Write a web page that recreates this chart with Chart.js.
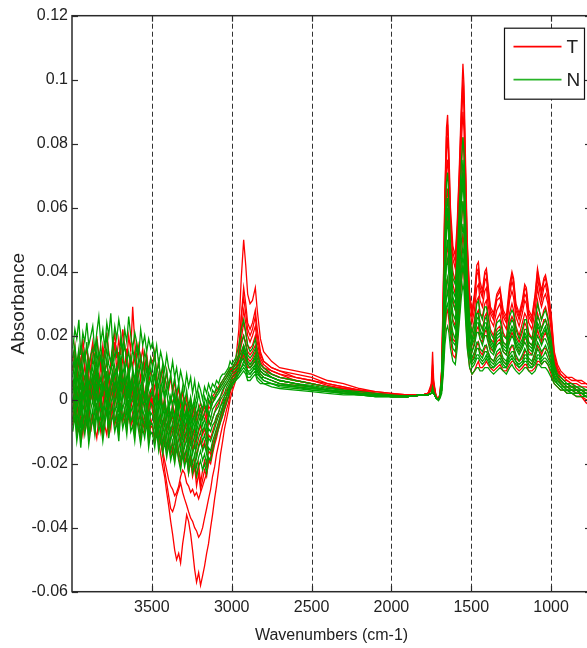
<!DOCTYPE html>
<html>
<head>
<meta charset="utf-8">
<script src="https://cdn.jsdelivr.net/npm/chart.js@4.4.1/dist/chart.umd.min.js"></script>
<style>
html,body{margin:0;padding:0;background:#fff;overflow:hidden;}
#wrap{width:600px;height:648px;position:relative;}
</style>
</head>
<body>
<div id="wrap"><canvas id="c" width="600" height="648"></canvas></div>
<script>
// Wavenumber grids (cm-1), three segments
const gridA = [3995,3982,3970,3957,3945,3932,3920,3907,3895,3882,3870,3857,3845,3832,3820,3807,3795,3782,3770,3757,3745,3732,3720,3707,3695,3682,3670,3657,3645,3632,3620,3607,3595,3582,3570,3557,3545,3532,3520,3507,3495,3482,3470,3457,3445,3432,3420,3407,3395,3382,3370,3357,3345,3332,3320,3307,3295,3282,3270,3257,3245,3232,3220,3207,3195,3182,3170,3157,3145,3132,3120,3107,3095,3082,3070,3057,3045,3032,3020,3010];
const gridB = [3000,2975,2955,2940,2925,2912,2900,2885,2870,2852,2840,2820,2800,2750,2700,2600,2500,2400,2300,2200,2100,2000,1900];
const gridC = [1800,1770,1750,1742,1735,1720,1705,1695,1685,1675,1665,1655,1648,1640,1630,1615,1600,1588,1575,1562,1552,1545,1538,1525,1510,1495,1480,1465,1455,1445,1430,1415,1405,1395,1380,1360,1340,1320,1300,1280,1260,1245,1235,1220,1200,1180,1165,1155,1140,1120,1100,1085,1075,1060,1045,1035,1020,1000,980,960,940,920,900,870,840,810,780,750];

const xTickValues = [3500,3000,2500,2000,1500,1000];
const yTickValues = [-0.06,-0.04,-0.02,0,0.02,0.04,0.06,0.08,0.1,0.12];
const groupNames = ['T','N'];

// Absorbance values in units of 0.001 (milli-absorbance), segments A / B / C
const T1 = [
 [12,17,9,15,11,19,13,16,8,14,18,12,20,14,10,17,13,21,15,11,16,21,13,19,14,22,17,12,20,15,29,18,13,17,12,16,10,14,9,13,11,15,8,12,6,10,4,9,3,7,2,6,0,4,-2,3,-3,1,-4,0,-5,-2,-6,-3,-1,-4,-2,-5,0,-1,1,2,3,4,5,6,7,8,9,10],
 [9,12,22,38,50,42,33,30,31,35,28,19,15,12,10,9,8,6,5,3.5,2.5,2,1.5],
 [1.5,2,5,15,6,1,0,2,10,35,65,85,89,78,60,48,45,55,72,92,105,98,80,50,33,28,33,42,43,37,34,40,41,36,29,27,33,35,28,26,36,40,38,30,27,31,36,35,28,26,33,41,38,34,38,39,35,27,15,11,9,8,7,7,6,6,5,5]];
const T2 = [
 [3,8,0,5,-2,6,2,7,-1,4,7,1,9,3,-1,5,2,8,0,4,8,2,6,-1,9,3,5,0,7,2,4,-1,6,1,-3,3,0,5,-2,1,-4,-7,-10,-13,-17,-21,-24,-29,-33,-38,-42,-47,-50,-48,-51,-45,-41,-36,-38,-42,-47,-53,-57,-54,-58,-55,-52,-48,-45,-40,-36,-31,-27,-22,-17,-13,-9,-6,-3,0],
 [2,6,14,26,35,30,24,22,24,28,22,15,12,10,9,7,6,5,4,3,2.5,2,1.5],
 [1.5,2,4,9,5,1,0,2,9,31,60,78,82,72,55,44,41,51,67,86,97,91,74,46,31,26,31,39,40,34,32,37,38,33,27,25,31,32,26,24,33,37,35,28,25,29,33,32,26,24,31,38,35,31,35,36,32,24,13,9,8,7,6,5,3,1,-1,-2]];
const T3 = [
 [6,1,9,4,-1,7,11,3,8,0,5,10,2,7,-1,6,9,3,8,1,4,9,1,6,11,3,7,0,5,2,6,1,7,2,-2,4,0,3,-1,2,0,-3,-6,-9,-13,-17,-22,-26,-30,-34,-35,-33,-30,-28,-26,-29,-31,-33,-35,-37,-38,-40,-41,-43,-42,-40,-37,-34,-31,-28,-24,-21,-17,-14,-11,-8,-6,-3,-1,2],
 [4,8,14,22,28,24,20,18,20,23,18,13,11,9,8,7,6,4.5,3.5,3,2,1.5,1.5],
 [1.5,2,4,8,4,1,0,2,8,28,55,72,75,66,51,40,37,47,62,80,90,84,68,42,28,24,28,35,36,31,29,34,35,30,25,23,28,30,24,22,31,34,32,26,23,27,31,30,24,22,28,35,32,29,32,33,30,22,12,9,7,6,6,5,5,4,4,3]];
const T4 = [
 [-1,4,-4,2,-6,3,-2,5,-3,1,4,-2,6,0,-4,3,-1,7,-3,2,5,0,3,-3,6,1,4,-2,7,0,3,-2,5,0,-4,2,-1,4,-3,1,-1,-4,-7,-10,-13,-16,-19,-22,-25,-27,-28,-30,-29,-27,-24,-22,-23,-26,-27,-29,-28,-30,-29,-31,-29,-27,-25,-23,-20,-18,-15,-13,-10,-8,-6,-4,-2,0,1,3],
 [6,9,13,19,24,21,17,16,17,20,16,12,10,9,8,6,5,4,3.5,2.5,2,1.5,1],
 [1.5,2,3,6,3,1,0,1.5,7,24,48,63,66,58,45,36,33,42,56,72,82,76,61,38,25,21,25,31,32,27,26,30,31,27,22,20,25,27,21,19,27,30,28,23,20,24,27,26,21,19,25,31,28,25,28,29,26,19,11,8,6,5,5,4,4,3,3,2]];
const T5 = [
 [6,2,10,4,-1,8,3,11,1,7,-1,6,9,3,12,5,0,8,2,6,9,3,7,12,4,8,1,6,10,3,7,2,9,4,0,6,1,5,-1,3,4,0,3,-2,1,-4,-1,-6,-3,-7,-5,-9,-4,-8,-11,-6,-10,-7,-12,-8,-12,-9,-13,-10,-8,-11,-9,-12,-7,-8,-6,-4,-2,-1,1,2,4,5,6,7],
 [8,10,13,17,20,18,15,14,15,17,14,11,10,8,7,6,5,4,3,2.5,2,1.5,1],
 [1.5,2,3,7,3,1,0,1.5,6,21,42,55,58,51,39,31,28,36,49,63,72,67,54,33,22,18,22,27,28,24,22,26,27,23,19,18,22,23,18,17,24,26,25,20,18,21,24,23,18,17,22,27,25,22,25,25,23,17,10,7,6,5,4,4,3,3,2,2]];
const T6 = [
 [-3,2,-5,1,-2,4,-4,0,-6,2,5,-1,3,-4,1,-3,6,-2,2,-5,3,-2,5,0,-4,2,7,-1,4,-3,1,-4,2,-2,-6,0,-3,3,-5,-1,-3,-7,-2,-8,-4,-9,-5,-10,-6,-11,-8,-12,-7,-11,-14,-9,-13,-10,-15,-11,-16,-13,-18,-14,-12,-15,-13,-16,-11,-12,-10,-8,-6,-4,-2,0,1,3,4,5],
 [7,9,11,14,17,15,13,12,13,15,12,10,9,8,7,6,5,4,3,2.5,2,1.5,1],
 [1.5,2,3,5,3,1,0,1,5,17,35,46,48,42,32,25,23,30,41,54,62,57,46,28,18,15,18,22,23,19,18,21,22,19,16,15,18,19,15,14,19,21,20,17,15,17,19,19,15,14,18,22,20,18,20,21,19,14,9,7,5,4,4,3,3,2,2,1]];
const T7 = [
 [-6,-1,-9,-3,-7,-11,-4,-8,-2,-10,-5,-9,-12,-6,-10,-3,-8,-11,-5,-9,-2,-7,-4,-10,-1,-6,-3,-9,-5,-8,-4,-9,-2,-7,-11,-5,-8,-3,-10,-6,-8,-12,-7,-13,-9,-14,-10,-15,-11,-16,-13,-17,-12,-16,-19,-14,-18,-15,-21,-17,-22,-19,-24,-20,-26,-22,-19,-21,-16,-17,-14,-12,-10,-7,-5,-3,-1,1,3,4],
 [5,7,9,12,14,12,10,10,11,13,11,9,8,7,6,5,4,3,2.5,2,1.5,1,1],
 [1.5,2,3,6,3,1,0,1,4,14,28,37,38,33,25,19,18,24,34,45,52,48,38,23,15,12,14,17,18,15,14,16,17,15,13,12,14,15,12,11,15,17,16,13,12,13,15,15,12,11,14,17,16,14,16,16,15,11,7,6,5,4,3,3,2,2,1,1]];
const T8 = [
 [9,14,6,12,8,15,10,5,13,9,17,11,7,14,10,16,8,12,6,11,12,18,9,15,7,13,10,16,8,14,10,15,7,12,6,11,8,13,5,9,7,3,8,0,4,-3,1,-5,-2,-6,-1,-5,0,-4,-7,-2,-6,-3,-8,-4,-7,-4,-8,-5,-3,-6,-4,-7,-2,-3,-1,1,2,3,4,5,6,7,8,9],
 [10,11,12,13,15,13,11,10,11,12,10,8,7,6,5,4.5,4,3,2.5,2,1.5,1,1],
 [1.5,2,3,5,3,1,0,1,3,10,21,27,28,25,19,14,13,18,26,36,42,39,30,17,10,8,9,11,12,10,10,11,12,11,10,9,10,11,9,9,11,12,12,10,9,10,11,11,9,9,10,12,12,11,12,12,11,8,5,4,3,3,2,2,1,1,0,0]];
const T9 = [
 [-8,-3,-11,-6,-13,-5,-9,-4,-12,-7,-4,-9,-2,-8,-5,-11,-6,-1,-10,-5,-3,-8,-5,-11,-2,-7,-4,-9,-1,-8,-6,-11,-4,-8,-12,-7,-10,-5,-13,-8,-9,-13,-8,-14,-10,-15,-11,-16,-12,-17,-15,-19,-14,-18,-21,-16,-20,-17,-23,-19,-24,-21,-27,-23,-28,-25,-22,-24,-19,-20,-17,-14,-12,-9,-7,-5,-3,-1,1,3],
 [4,8,16,26,32,27,22,20,22,26,20,14,12,10,9,8,7,5,4,3,2,1.5,1.5],
 [1.5,2,4,11,5,1,0,2,9,33,63,82,86,75,57,46,43,53,70,89,100,93,76,48,32,27,32,40,41,35,33,39,40,35,28,26,32,34,27,25,34,39,37,29,26,30,35,34,27,25,32,40,37,33,37,38,34,26,14,10,8,7,7,6,6,5,5,4]];

const N1 = [
 [16,22,19,25,14,21,18,24,17,20,23,15,21,26,18,22,16,24,20,27,17,23,19,25,21,15,22,18,26,20,16,21,18,14,22,17,20,15,19,16,18,13,17,11,15,12,9,14,10,8,12,7,10,5,9,6,3,8,4,7,2,6,1,5,3,0,4,2,5,3,5,4,6,5,7,8,8,9,10,12],
 [11,13,17,22,25,21,17,15,16,19,15,11,10,8,7,6,5,4,3,2.5,2,1.5,1],
 [1.5,1.5,2,4,2.5,0.5,0,1.5,7,26,52,68,71,62,48,38,36,44,60,74,82,77,62,38,25,21,24,30,31,27,25,29,29,26,21,19,24,25,20,19,26,28,27,22,19,22,25,25,20,19,24,30,28,25,27,28,25,19,11,8,7,6,5,5,4,4,3,3]];
const N2 = [
 [13,17,11,16,9,15,12,18,10,14,16,12,19,13,17,11,15,20,14,12,18,13,16,11,19,14,17,12,15,10,16,12,17,11,14,9,15,12,8,13,10,14,8,12,7,11,5,9,4,8,3,7,2,5,0,4,-1,3,-2,1,-3,1,-2,2,-1,-3,1,-1,2,0,3,2,4,3,5,6,7,8,9,10],
 [10,12,14,18,20,17,14,13,14,16,13,10,9,7,6,5,4.5,3.5,3,2,1.5,1,1],
 [1.5,1.5,2,3,2,0.5,0,1,6,23,46,60,63,55,43,34,32,40,54,67,75,70,56,34,23,19,22,27,27,24,22,25,26,23,19,17,21,22,18,17,23,25,24,19,17,19,22,22,18,17,21,26,25,22,24,25,22,17,10,7,6,5,5,4,4,3,3,2]];
const N3 = [
 [10,14,8,13,6,11,15,9,12,7,13,9,15,10,14,8,12,16,11,9,14,10,8,13,11,16,9,12,7,13,10,6,12,8,11,5,9,13,7,10,6,10,4,8,3,7,1,5,2,-1,3,-1,2,-3,1,-4,0,-2,-5,-1,-4,-1,-5,-2,-6,-3,-1,-4,0,-2,1,0,2,3,4,5,6,7,8,9],
 [9,11,13,15,17,15,12,11,12,14,11,9,8,7,6,5,4,3,2.5,2,1.5,1,1],
 [1.5,1.5,2,3,2,0.5,0,1,5,20,41,53,56,49,38,30,28,36,49,61,68,63,50,31,21,17,19,24,24,21,19,22,23,20,17,15,19,20,16,15,20,22,21,17,15,17,20,19,16,15,19,23,22,19,21,22,19,15,9,7,6,5,4,4,3,3,2,2]];
const N4 = [
 [7,12,5,9,3,10,6,11,4,8,10,6,12,7,3,11,8,13,6,9,12,7,10,5,13,8,11,6,9,4,9,5,11,7,3,8,6,10,4,7,3,8,2,5,-1,4,0,3,-3,1,-2,2,-4,0,-5,-1,-6,-2,-7,-3,-7,-4,-8,-5,-3,-6,-4,-2,-5,-3,-1,0,1,2,3,4,5,6,7,8],
 [9,10,11,13,15,13,11,10,11,12,10,8,7,6,5,4.5,4,3,2.5,2,1.5,1,1],
 [1.5,1.5,2,3,2,0.5,0,1,5,18,36,47,50,44,34,27,25,32,44,55,62,58,46,28,19,15,17,21,21,19,17,20,20,18,15,14,17,18,15,14,18,20,19,16,14,16,18,17,14,14,17,20,19,17,19,19,17,13,8,6,5,4,4,3,3,2,2,1]];
const N5 = [
 [4,9,2,7,0,6,3,8,1,5,8,3,10,4,7,1,9,5,2,6,9,4,7,2,10,5,8,3,6,1,6,2,8,4,0,5,-1,7,3,1,4,-1,3,-2,2,-3,0,-4,-1,-5,-2,-6,-1,-5,-8,-3,-7,-4,-9,-5,-9,-6,-10,-7,-5,-8,-6,-9,-4,-6,-3,-2,-1,0,1,3,4,5,6,7],
 [8,9,10,12,13,11,9,9,10,11,9,7,7,6,5,4,3.5,3,2,2,1.5,1,1],
 [1.5,1.5,2,2.5,2,0.5,0,1,4,16,32,42,44,39,30,24,22,28,39,49,55,51,41,25,17,13,15,18,18,16,15,17,17,15,13,12,15,16,13,12,16,17,17,14,12,14,16,15,13,12,15,18,17,15,16,17,15,12,7,6,5,4,3,3,3,2,2,1]];
const N6 = [
 [2,7,-1,4,-3,5,0,6,-2,3,6,1,8,2,-1,5,3,9,0,4,7,2,5,-1,8,3,6,1,9,2,4,-1,6,2,-2,3,0,5,-1,2,2,-3,1,-4,0,-5,-2,-6,-3,-7,-4,-8,-3,-7,-10,-5,-9,-6,-11,-7,-11,-8,-12,-9,-7,-10,-8,-11,-6,-8,-6,-4,-3,-2,0,1,2,4,5,6],
 [7,8,9,10,11,10,8,8,9,10,8,7,6,5,4.5,4,3,2.5,2,1.5,1.5,1,1],
 [1.5,1.5,2,2.5,2,0.5,0,1,4,14,28,36,38,34,26,21,19,25,34,43,48,45,36,22,15,12,13,16,16,14,13,15,15,14,12,11,13,14,12,11,14,15,15,12,11,12,14,14,12,11,13,16,15,13,14,15,13,11,7,5,4,4,3,3,2,2,1,1]];
const N7 = [
 [-1,4,-3,1,-5,2,-2,3,-4,0,3,-2,5,-1,2,-4,0,6,-3,1,4,-1,2,-4,5,0,3,-2,6,-1,1,-4,3,-1,-5,0,-3,2,-6,-1,-2,-6,-1,-7,-3,-8,-4,-9,-5,-10,-7,-11,-6,-10,-13,-8,-12,-9,-14,-10,-14,-11,-15,-12,-10,-13,-11,-14,-9,-10,-8,-7,-5,-4,-2,-1,1,2,4,5],
 [6,7,8,9,10,9,7,7,8,9,7,6,5,5,4,3.5,3,2.5,2,1.5,1,1,1],
 [1.5,1.5,2,2,2,0.5,0,1,3,11,22,29,30,27,21,16,15,20,29,37,42,39,31,19,13,10,11,13,13,12,11,12,13,12,10,10,11,12,10,10,12,13,12,11,10,11,12,12,10,10,11,13,13,11,12,12,11,9,6,5,4,3,3,2,2,2,1,1]];
const N8 = [
 [-4,1,-7,-2,-9,-1,-5,0,-8,-3,0,-5,2,-4,-1,-7,-2,3,-6,-1,1,-4,-1,-7,2,-3,0,-5,3,-4,-2,-7,0,-4,-8,-3,-6,-1,-9,-4,-5,-9,-4,-10,-6,-11,-7,-12,-8,-13,-10,-14,-9,-13,-16,-11,-15,-12,-17,-13,-17,-14,-18,-15,-13,-16,-14,-17,-12,-13,-11,-9,-7,-5,-4,-2,0,1,3,4],
 [5,6,7,8,9,8,6,6,7,8,6,5,5,4,3.5,3,2.5,2,1.5,1.5,1,1,1],
 [1.5,1.5,2,2,2,0.5,-0.3,0.5,2,8,17,22,23,21,16,12,11,16,24,32,36,34,27,16,10,8,9,10,10,9,9,10,10,10,9,8,9,10,9,8,10,11,10,9,8,9,10,10,9,8,9,11,11,10,10,10,9,7,5,4,3,3,2,2,1,1,1,0]];
const N9 = [
 [-7,-2,-10,-5,-12,-4,-8,-3,-11,-6,-3,-8,-1,-7,-4,-10,-5,0,-9,-4,-2,-7,-4,-10,-1,-6,-3,-8,0,-7,-5,-10,-3,-7,-11,-6,-9,-4,-12,-7,-8,-12,-7,-13,-9,-14,-10,-15,-11,-16,-13,-17,-12,-16,-19,-14,-18,-15,-20,-16,-20,-17,-21,-18,-16,-19,-17,-20,-15,-16,-13,-11,-9,-7,-5,-3,-1,1,2,4],
 [5,7,10,13,16,14,12,11,12,13,11,9,8,7,6,5,4,3,2.5,2,1.5,1,1],
 [1.5,1.5,2,3,2,0.5,0,1,6,21,43,57,60,52,40,32,30,38,51,64,71,66,53,32,22,18,20,25,26,22,20,24,24,21,18,16,20,21,17,16,21,23,22,18,16,18,21,20,17,16,20,24,23,20,22,23,20,16,9,7,6,5,5,4,3,3,2,2]];
const N10 = [
 [-10,-5,-13,-8,-15,-7,-11,-6,-14,-9,-6,-11,-4,-10,-7,-13,-8,-3,-12,-7,-5,-10,-7,-13,-4,-9,-6,-11,-3,-10,-8,-13,-6,-10,-14,-9,-12,-7,-15,-10,-11,-15,-10,-16,-12,-17,-13,-18,-14,-19,-16,-20,-15,-19,-22,-17,-21,-18,-23,-19,-23,-20,-24,-21,-19,-22,-20,-23,-18,-19,-16,-13,-11,-9,-7,-5,-3,-1,1,3],
 [4,6,8,10,12,11,9,8,9,11,9,7,6,5,4.5,4,3.5,3,2,1.5,1,1,1],
 [1.5,1.5,2,2,2,0.5,0,1,3,12,25,32,34,30,23,18,17,22,31,40,45,42,33,20,14,11,12,14,14,13,12,13,14,13,11,10,12,13,11,10,13,14,13,12,10,11,13,13,11,10,12,14,14,12,13,13,12,10,6,5,4,3,3,2,2,2,1,1]];

const tSeries = [T1,T2,T3,T4,T5,T6,T7,T8,T9];
const nSeries = [N1,N2,N3,N4,N5,N6,N7,N8,N9,N10];

const RED = 'rgb(255,0,0)';
const GREEN = 'rgb(0,160,0)';
const FONT = "'Liberation Sans', Arial, sans-serif";
const INK = '#222';

function toPoints(series){
  const grids = [gridA, gridB, gridC];
  const pts = [];
  series.forEach((vals, i) => {
    const g = grids[i];
    const n = Math.min(vals.length, g.length);
    for (let k = 0; k < n; k++) pts.push({x: g[k], y: vals[k] / 1000});
  });
  return pts;
}

const datasets = [];
nSeries.forEach(s => datasets.push({label: groupNames[1], data: toPoints(s), borderColor: GREEN, borderWidth: 1.3, pointRadius: 0, fill: false}));
tSeries.forEach(s => datasets.push({label: groupNames[0], data: toPoints(s), borderColor: RED, borderWidth: 1.3, pointRadius: 0, fill: false}));

const framePlugin = {
  id: 'frame',
  beforeDatasetsDraw(chart){
    const {ctx, chartArea: a, scales: {x}} = chart;
    ctx.save();
    ctx.strokeStyle = '#333';
    ctx.lineWidth = 1;
    ctx.setLineDash([5,3]);
    xTickValues.forEach(v => {
      const px = Math.round(x.getPixelForValue(v)) + 0.5;
      ctx.beginPath(); ctx.moveTo(px, a.top); ctx.lineTo(px, a.bottom); ctx.stroke();
    });
    ctx.restore();
  },
  afterDatasetsDraw(chart){
    const {ctx, chartArea: a, scales: {x, y}} = chart;
    ctx.save();
    ctx.strokeStyle = '#2a2a2a';
    ctx.lineWidth = 1.5;
    ctx.setLineDash([]);
    ctx.strokeRect(a.left, a.top, a.right - a.left, a.bottom - a.top);
    const tl = 6;
    ctx.lineWidth = 1.2;
    xTickValues.forEach(v => {
      const px = Math.round(x.getPixelForValue(v)) + 0.5;
      ctx.beginPath(); ctx.moveTo(px, a.bottom); ctx.lineTo(px, a.bottom - tl); ctx.stroke();
      ctx.beginPath(); ctx.moveTo(px, a.top); ctx.lineTo(px, a.top + tl); ctx.stroke();
    });
    yTickValues.forEach(v => {
      const py = Math.round(y.getPixelForValue(v)) + 0.5;
      ctx.beginPath(); ctx.moveTo(a.left, py); ctx.lineTo(a.left + tl, py); ctx.stroke();
      ctx.beginPath(); ctx.moveTo(a.right, py); ctx.lineTo(a.right - tl, py); ctx.stroke();
    });
    // legend
    const bw = 80, bh = 71;
    const bx = a.right - 6.5 - bw, by = a.top + 12.5;
    ctx.fillStyle = '#fff';
    ctx.fillRect(bx, by, bw, bh);
    ctx.strokeStyle = '#111';
    ctx.lineWidth = 1.2;
    ctx.strokeRect(bx, by, bw, bh);
    const rows = [{name: groupNames[0], color: RED, yy: by + 18.5}, {name: groupNames[1], color: 'rgb(40,180,40)', yy: by + 51.5}];
    ctx.font = '19px ' + FONT;
    ctx.textBaseline = 'middle';
    ctx.textAlign = 'left';
    rows.forEach(r => {
      ctx.strokeStyle = r.color; ctx.lineWidth = 1.8;
      ctx.beginPath(); ctx.moveTo(bx + 9, r.yy); ctx.lineTo(bx + 57, r.yy); ctx.stroke();
      ctx.fillStyle = INK;
      ctx.fillText(r.name, bx + 62, r.yy + 1);
    });
    ctx.restore();
  }
};

new Chart(document.getElementById('c'), {
  type: 'line',
  data: {datasets},
  plugins: [framePlugin],
  options: {
    responsive: false,
    animation: false,
    devicePixelRatio: 1,
    layout: {padding: {top: 15.7, right: 9, left: 0, bottom: 0}},
    plugins: {legend: {display: false}, tooltip: {enabled: false}},
    elements: {point: {radius: 0}, line: {tension: 0}},
    scales: {
      x: {
        type: 'linear', reverse: true, min: 750, max: 4000,
        afterBuildTicks: s => { s.ticks = xTickValues.map(v => ({value: v})); },
        afterFit: s => { s.height = 56.3; },
        grid: {display: false, drawTicks: false},
        border: {display: false},
        ticks: {padding: 6, color: INK, font: {family: FONT, size: 16}, maxRotation: 0, autoSkip: false, callback: v => String(v)},
        title: {display: true, text: 'Wavenumbers (cm-1)', color: INK, font: {family: FONT, size: 16}, padding: {top: 0, bottom: 3}}
      },
      y: {
        type: 'linear', min: -0.06, max: 0.12,
        afterBuildTicks: s => { s.ticks = yTickValues.map(v => ({value: v})); },
        afterFit: s => { s.width = 72; },
        grid: {display: false, drawTicks: false},
        border: {display: false},
        ticks: {padding: 4, color: INK, font: {family: FONT, size: 16}, callback: v => String(Math.round(v * 100) / 100)},
        title: {display: true, text: 'Absorbance', color: INK, font: {family: FONT, size: 19}, padding: {top: 7, bottom: 0}}
      }
    }
  }
});
</script>
</body>
</html>
